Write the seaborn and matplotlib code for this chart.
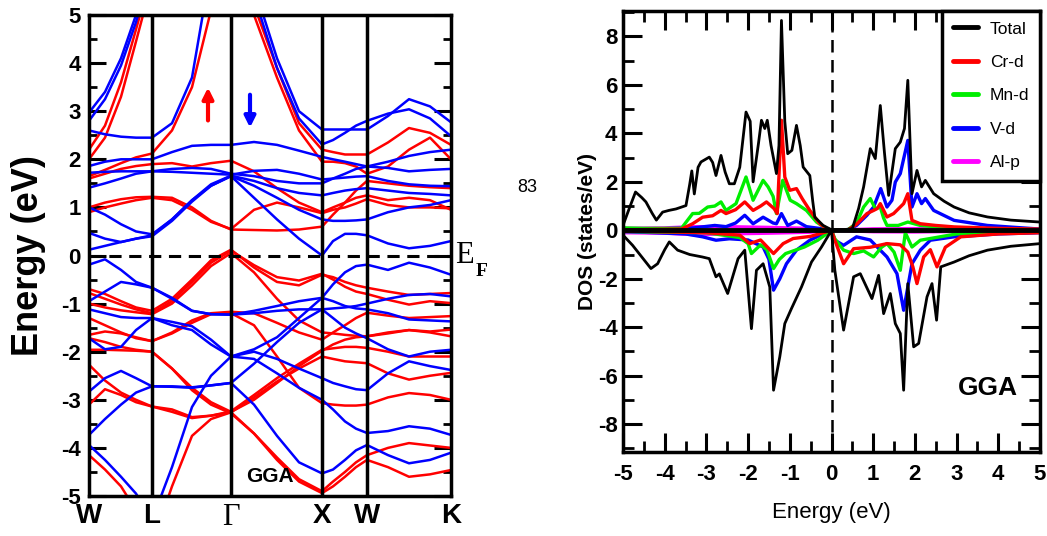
import matplotlib
matplotlib.use('Agg')
import matplotlib.pyplot as plt
from matplotlib.ticker import MultipleLocator
from matplotlib.lines import Line2D
import pandas as pd
import seaborn as sns

# ---- band structure data (k distance along W-L-G-X-W-K, energies in eV) ----
kpts = [0, 16, 32, 47, 63, 83, 103, 122, 142, 165, 188, 210, 233, 244, 256, 267, 278, 299, 320, 341, 362]
sym_pos = [0, 63, 142, 233, 278, 362]
sym_labels = ['W', 'L', 'Γ', 'X', 'W', 'K']

# spin up (red)
up_a = [2.2, 2.7, 3.6, 4.7, 5.9, 7.0, 8.0, 8.5, 9.0, 5.2, 3.9, 2.75, 2.2, 2.15, 2.1, 2.1, 2.1, 2.35, 2.65, 2.55, 2.3]
up_b = [2.0, 2.45, 3.3, 4.45, 5.7, 7.0, 8.0, 8.5, 9.0, 5.0, 3.7, 2.6, 1.95, 1.95, 1.92, 1.85, 1.7, 1.85, 2.2, 2.45, 2.0]
up_c = [1.65, 1.78, 1.92, 2.04, 2.12, 2.6, 3.5, 5.1, 7.0, 8.0, 8.0, 8.0, 8.0, 8.0, 8.0, 8.0, 8.0, 8.0, 8.0, 8.0, 8.0]
up_d = [1.6, 1.7, 1.8, 1.86, 1.9, 1.92, 1.85, 1.92, 1.97, 1.75, 1.4, 1.1, 0.9, 1.0, 1.1, 1.2, 1.25, 1.15, 1.2, 1.15, 0.95]
up_e = [1.0, 1.1, 1.17, 1.21, 1.22, 1.2, 1.0, 0.72, 0.54, 0.53, 0.52, 0.54, 0.6, 0.85, 1.1, 1.35, 1.55, 1.5, 1.45, 1.42, 1.4]
up_f = [0.9, 1.0, 1.08, 1.15, 1.2, 1.15, 0.95, 0.7, 0.55, 0.95, 1.1, 1.0, 0.88, 0.95, 1.0, 1.08, 1.17, 1.05, 1.0, 1.0, 0.98]
up_g = [-0.7, -0.8, -0.95, -1.08, -1.15, -0.9, -0.5, -0.1, 0.12, -0.25, -0.55, -0.62, -0.4, -0.45, -0.55, -0.62, -0.67, -0.75, -0.82, -0.8, -0.78]
up_h = [-0.78, -0.9, -1.02, -1.12, -1.2, -0.95, -0.55, -0.15, 0.1, -0.2, -0.45, -0.52, -0.38, -0.5, -0.65, -0.75, -0.8, -0.92, -1.02, -0.95, -0.99]
up_i = [-1.0, -1.08, -1.14, -1.18, -1.22, -1.0, -0.62, -0.22, 0.05, -0.35, -0.9, -1.35, -1.6, -1.62, -1.65, -1.67, -1.68, -1.62, -1.55, -1.6, -1.68]
up_j = [-1.3, -1.45, -1.6, -1.72, -1.78, -1.6, -1.35, -1.2, -1.17, -1.2, -1.4, -1.6, -1.75, -1.6, -1.45, -1.3, -1.19, -1.25, -1.3, -1.28, -1.26]
up_k = [-1.65, -1.58, -1.62, -1.7, -1.78, -1.62, -1.4, -1.22, -1.2, -1.45, -2.1, -2.75, -3.07, -3.1, -3.12, -3.12, -3.1, -2.95, -2.86, -2.9, -3.0]
up_l = [-1.72, -1.8, -1.9, -1.96, -2.0, -2.35, -2.75, -3.05, -3.25, -3.0, -2.65, -2.3, -1.98, -1.85, -1.75, -1.7, -1.68, -1.6, -1.55, -1.58, -1.54]
up_m = [-1.96, -1.96, -1.97, -1.98, -2.0, -2.35, -2.8, -3.1, -3.28, -3.7, -4.2, -4.65, -4.9, -4.7, -4.5, -4.3, -4.15, -4.0, -3.9, -3.95, -4.0]
up_n = [-2.27, -2.6, -2.85, -3.0, -3.14, -3.25, -3.38, -3.33, -3.24, -2.9, -2.55, -2.25, -1.96, -1.93, -1.9, -1.9, -1.92, -2.0, -2.1, -2.1, -2.1]
up_o = [-3.1, -2.78, -2.9, -3.05, -3.14, -3.2, -3.36, -3.33, -3.26, -2.95, -2.62, -2.35, -2.1, -2.15, -2.2, -2.22, -2.24, -2.45, -2.58, -2.5, -2.44]
up_p = [-4.15, -4.45, -4.8, -5.3, -6.0, -4.8, -3.75, -3.4, -3.26, -3.7, -4.25, -4.7, -4.94, -4.8, -4.6, -4.4, -4.25, -4.4, -4.6, -4.55, -4.46]

# spin down (blue)
dn_a = [2.97, 3.4, 4.1, 5.0, 6.2, 8.0, 8.0, 8.0, 8.0, 8.0, 8.0, 8.0, 8.0, 8.0, 8.0, 8.0, 8.0, 8.0, 8.0, 8.0, 8.0]
dn_b = [2.8, 3.25, 3.95, 4.85, 6.0, 8.0, 8.0, 8.0, 8.0, 8.0, 8.0, 8.0, 8.0, 8.0, 8.0, 8.0, 8.0, 8.0, 8.0, 8.0, 8.0]
dn_c = [2.6, 2.52, 2.47, 2.45, 2.45, 2.75, 3.7, 6.0, 8.0, 5.6, 4.1, 3.0, 2.62, 2.62, 2.62, 2.62, 2.62, 2.9, 3.25, 3.1, 2.77]
dn_d = [8.0, 8.0, 8.0, 8.0, 8.0, 8.0, 8.0, 8.0, 8.0, 5.4, 3.9, 2.85, 2.31, 2.4, 2.55, 2.7, 2.8, 2.95, 3.04, 2.85, 2.48]
dn_e = [1.86, 1.95, 2.0, 2.0, 2.0, 2.15, 2.28, 2.3, 2.3, 2.36, 2.3, 2.18, 2.05, 2.0, 1.95, 1.9, 1.85, 1.95, 2.07, 2.15, 2.2]
dn_f = [1.72, 1.74, 1.75, 1.75, 1.75, 1.74, 1.72, 1.7, 1.68, 1.76, 1.78, 1.7, 1.58, 1.6, 1.62, 1.64, 1.65, 1.55, 1.48, 1.45, 1.44]
dn_g = [1.41, 1.5, 1.6, 1.7, 1.75, 1.8, 1.82, 1.8, 1.7, 1.65, 1.55, 1.5, 1.5, 1.6, 1.7, 1.8, 1.85, 1.82, 1.75, 1.78, 1.8]
dn_h = [0.47, 0.35, 0.28, 0.35, 0.42, 0.75, 1.15, 1.45, 1.65, 1.2, 0.75, 0.35, 0.0, 0.3, 0.45, 0.45, 0.42, 0.25, 0.15, 0.2, 0.3]
dn_i = [0.12, 0.2, 0.28, 0.35, 0.4, 0.72, 1.12, 1.45, 1.65, 1.45, 1.2, 0.95, 0.75, 0.72, 0.72, 0.73, 0.75, 0.9, 1.0, 1.05, 1.15]
dn_j = [1.0, 0.85, 0.65, 0.5, 0.44, 0.75, 1.15, 1.48, 1.66, 1.55, 1.4, 1.3, 1.25, 1.3, 1.35, 1.38, 1.4, 1.35, 1.3, 1.28, 1.25]
dn_k = [-0.19, -0.08, -0.3, -0.55, -0.67, -0.9, -1.15, -1.22, -1.23, -1.15, -1.05, -0.95, -0.88, -0.6, -0.35, -0.22, -0.19, -0.3, -0.15, -0.25, -0.4]
dn_l = [-0.95, -0.75, -0.55, -0.6, -0.67, -0.88, -1.15, -1.22, -1.23, -1.2, -1.15, -1.12, -1.12, -1.1, -1.08, -1.05, -1.0, -0.9, -0.82, -0.8, -0.85]
dn_m = [-1.12, -1.2, -1.28, -1.3, -1.3, -1.38, -1.47, -1.75, -2.1, -1.95, -1.7, -1.3, -0.88, -0.95, -1.05, -1.1, -1.12, -1.2, -1.33, -1.35, -1.37]
dn_n = [-1.72, -1.95, -1.9, -1.55, -1.3, -1.45, -1.55, -1.85, -2.1, -2.0, -2.15, -2.35, -2.55, -2.65, -2.72, -2.78, -2.8, -2.45, -2.2, -2.3, -2.38]
dn_o = [-2.83, -2.55, -2.4, -2.55, -2.72, -2.73, -2.75, -2.7, -2.65, -3.1, -3.75, -4.3, -4.53, -4.45, -4.25, -4.05, -3.94, -4.15, -4.32, -4.25, -4.1]
dn_p = [-3.73, -3.4, -3.1, -2.85, -2.72, -2.72, -2.74, -2.7, -2.65, -2.25, -1.8, -1.4, -1.12, -1.3, -1.5, -1.62, -1.72, -1.95, -2.1, -2.0, -1.96]
dn_q = [-3.94, -4.25, -4.6, -4.95, -5.5, -4.4, -3.15, -2.5, -2.1, -2.15, -2.45, -2.75, -3.0, -3.2, -3.45, -3.6, -3.69, -3.65, -3.55, -3.6, -3.73]

bands_up = [up_a, up_b, up_c, up_d, up_e, up_f, up_g, up_h, up_i, up_j, up_k, up_l, up_m, up_n, up_o, up_p]
bands_dn = [dn_a, dn_b, dn_c, dn_d, dn_e, dn_f, dn_g, dn_h, dn_i, dn_j, dn_k, dn_l, dn_m, dn_n, dn_o, dn_p, dn_q]

# ---- DOS data (energy eV, states/eV); spin down negative ----
tot_up_e = [-5.0, -4.85, -4.7, -4.55, -4.45, -4.3, -4.2, -4.05, -3.9, -3.73, -3.49, -3.4, -3.35, -3.29, -3.2, -3.13,
            -2.93, -2.85, -2.77, -2.65, -2.55, -2.45, -2.33, -2.2, -2.05, -1.95, -1.88, -1.75, -1.68, -1.6, -1.54,
            -1.45, -1.32, -1.26, -1.2, -1.12, -1.05, -0.95, -0.84, -0.75, -0.68, -0.52, -0.45, -0.4, -0.2, 0.0,
            0.3, 0.5, 0.65, 0.77, 0.93, 1.05, 1.17, 1.27, 1.37, 1.53, 1.65, 1.75, 1.83, 1.93, 2.05, 2.16, 2.25,
            2.45, 2.7, 2.94, 3.3, 3.74, 4.3, 5.0]
tot_up = [0.2, 0.9, 1.58, 1.35, 1.17, 0.7, 0.42, 0.75, 0.82, 0.88, 1.02, 1.9, 2.45, 1.5, 2.6, 2.82,
          3.02, 2.8, 2.26, 3.09, 2.4, 1.92, 1.92, 2.6, 4.88, 4.5, 2.0, 3.6, 4.54, 4.2, 4.54,
          3.5, 2.34, 3.5, 8.66, 4.5, 3.16, 3.3, 4.33, 3.5, 2.61, 2.26, 1.2, 0.54, 0.2, 0.02,
          0.02, 0.07, 0.9, 1.79, 3.37, 2.96, 5.15, 3.2, 1.44, 3.37, 3.64, 4.2, 6.19, 1.51, 2.47, 1.79, 2.06,
          1.51, 1.2, 0.96, 0.72, 0.55, 0.42, 0.34]
tot_dn_e = [-5.0, -4.77, -4.55, -4.33, -4.17, -4.0, -3.89, -3.69, -3.4, -3.1, -2.93, -2.77, -2.69, -2.49, -2.35,
            -2.24, -2.08, -1.92, -1.8, -1.64, -1.48, -1.39, -1.24, -1.12, -0.96, -0.72, -0.48, -0.24, 0.0, 0.08,
            0.29, 0.53, 0.69, 0.97, 1.13, 1.25, 1.41, 1.53, 1.65, 1.73, 1.83, 1.97, 2.09, 2.29, 2.41, 2.52, 2.62,
            2.94, 3.3, 3.74, 4.3, 5.0]
tot_dn = [-0.2, -0.62, -1.1, -1.58, -1.38, -0.8, -0.48, -0.82, -1.0, -1.1, -1.17, -1.92, -1.8, -2.61, -1.8,
          -1.17, -0.82, -4.06, -1.65, -1.38, -2.34, -6.6, -5.22, -3.85, -3.23, -2.34, -1.31, -0.69, 0.0, -1.65,
          -4.12, -1.92, -1.79, -2.82, -1.86, -3.44, -2.61, -3.85, -4.26, -6.6, -2.2, -4.81, -4.67, -2.75, -2.2, -3.71, -1.51,
          -1.31, -1.05, -0.82, -0.66, -0.55]

cr_up_e = [-5.0, -3.6, -3.33, -3.09, -2.85, -2.65, -2.53, -2.3, -2.08, -1.88, -1.7, -1.56, -1.38, -1.3, -1.2, -1.12,
           -1.0, -0.84, -0.7, -0.52, -0.28, -0.12, 0.0, 0.4, 0.6, 0.85, 1.01, 1.1, 1.17, 1.33, 1.49, 1.73, 1.83,
           1.93, 2.13, 2.5, 2.94, 4.0, 5.0]
cr_up = [0.02, 0.05, 0.27, 0.54, 0.6, 0.82, 0.69, 0.85, 1.17, 0.82, 1.0, 1.17, 0.9, 0.69, 4.54, 2.2,
         1.65, 1.72, 1.3, 0.82, 0.27, 0.07, 0.0, 0.02, 0.25, 0.69, 0.82, 0.9, 1.1, 0.55, 0.69, 1.1, 1.51,
         0.41, 0.27, 0.2, 0.14, 0.08, 0.05]
mn_up_e = [-5.0, -4.5, -3.6, -3.33, -3.17, -2.97, -2.8, -2.65, -2.53, -2.29, -2.05, -1.88, -1.64, -1.52, -1.4,
           -1.32, -1.17, -0.99, -0.84, -0.6, -0.36, -0.12, 0.0, 0.4, 0.6, 0.77, 0.93, 1.05, 1.17, 1.25, 1.33,
           1.6, 1.83, 2.13, 3.0, 5.0]
mn_up = [0.1, 0.08, 0.08, 0.69, 0.7, 0.96, 1.0, 1.17, 0.82, 1.1, 2.2, 1.24, 2.06, 1.79, 1.4,
         0.69, 2.06, 1.24, 1.1, 0.82, 0.34, 0.07, 0.0, 0.03, 0.3, 0.96, 1.31, 0.89, 0.96, 0.5, 0.2,
         0.2, 0.34, 0.2, 0.06, 0.03]
v_up_e = [-5.0, -3.3, -2.8, -2.53, -2.3, -2.08, -1.88, -1.64, -1.4, -1.32, -1.2, -1.05, -0.84, -0.6, -0.3, 0.0,
          0.4, 0.6, 0.85, 1.01, 1.18, 1.33, 1.45, 1.53, 1.65, 1.83, 1.93, 2.05, 2.16, 2.25, 2.45, 2.94, 3.74, 5.0]
v_up = [0.02, 0.1, 0.2, 0.15, 0.3, 0.62, 0.27, 0.54, 0.3, 0.27, 0.69, 0.2, 0.38, 0.15, 0.08, 0.0,
        0.03, 0.2, 0.62, 0.96, 1.72, 0.96, 1.24, 1.99, 2.34, 3.71, 0.96, 1.51, 1.1, 1.31, 0.82, 0.41, 0.2, 0.05]
al_up_e = [-5.0, -4.0, -3.3, -2.5, -1.5, -0.5, 0.0, 1.0, 2.0, 3.0, 5.0]
al_up = [0.08, 0.1, 0.15, 0.15, 0.12, 0.08, 0.0, 0.06, 0.07, 0.05, 0.04]

cr_dn_e = [-5.0, -3.0, -2.2, -1.96, -1.7, -1.39, -1.16, -0.92, -0.5, -0.2, 0.0, 0.08, 0.29, 0.53, 0.93, 1.33,
           1.65, 1.83, 1.95, 2.05, 2.21, 2.37, 2.53, 2.73, 3.1, 4.0, 5.0]
cr_dn = [-0.03, -0.1, -0.2, -0.55, -0.4, -0.96, -0.55, -0.34, -0.25, -0.1, 0.0, -0.41, -1.38, -0.76, -0.7, -0.55,
         -0.6, -0.9, -1.5, -2.2, -1.1, -0.8, -1.51, -0.7, -0.27, -0.15, -0.1]
mn_dn_e = [-5.0, -3.0, -2.2, -2.0, -1.92, -1.7, -1.55, -1.39, -1.25, -1.1, -0.65, -0.33, 0.0, 0.08, 0.29, 0.53,
           0.77, 1.01, 1.2, 1.33, 1.5, 1.65, 1.77, 1.93, 2.13, 2.5, 3.0, 5.0]
mn_dn = [-0.05, -0.1, -0.3, -0.55, -0.96, -0.6, -0.8, -1.58, -1.2, -0.96, -0.69, -0.41, 0.0, -0.35, -0.82, -0.96,
         -0.85, -1.1, -0.7, -0.55, -0.9, -1.65, -0.1, -0.69, -0.41, -0.3, -0.15, -0.05]
v_dn_e = [-5.0, -3.5, -3.09, -2.77, -2.45, -2.0, -1.64, -1.5, -1.39, -1.24, -1.08, -0.84, -0.52, -0.2, 0.0, 0.08,
          0.29, 0.6, 0.93, 1.33, 1.57, 1.73, 1.93, 2.13, 2.37, 2.94, 4.0, 5.0]
v_dn = [-0.05, -0.15, -0.27, -0.41, -0.35, -0.4, -0.69, -1.2, -2.47, -2.0, -1.38, -0.82, -0.41, -0.15, 0.0, -0.41,
        -0.62, -0.27, -0.4, -1.1, -1.79, -3.3, -1.38, -0.82, -0.41, -0.27, -0.15, -0.1]
al_dn_e = [-5.0, -4.0, -3.3, -2.5, -1.5, -0.5, 0.0, 1.0, 2.0, 3.0, 5.0]
al_dn = [-0.1, -0.12, -0.18, -0.15, -0.12, -0.08, 0.0, -0.06, -0.07, -0.05, -0.04]

dos_names = ['Total', 'Cr-d', 'Mn-d', 'V-d', 'Al-p']
dos_colors = ['#000000', '#ff0000', '#00ee00', '#0000ff', '#ff00ff']

sns.set_style('ticks')
plt.rcParams['font.family'] = ['Liberation Sans', 'DejaVu Sans']
plt.rcParams['axes.unicode_minus'] = False
for key in ('text.color', 'axes.labelcolor', 'xtick.color', 'ytick.color', 'axes.edgecolor'):
    plt.rcParams[key] = 'black'

fig = plt.figure(figsize=(10.47, 5.36), dpi=100)
ax1 = fig.add_axes([89 / 1047, 40 / 536, 362 / 1047, 481 / 536])
ax2 = fig.add_axes([623 / 1047, 84 / 536, 417 / 1047, 441 / 536])

# ---------------- left: band structure ----------------
rows = []
for spin, bands in (('up', bands_up), ('dn', bands_dn)):
    for i, b in enumerate(bands):
        for k, e in zip(kpts, b):
            rows.append((f'{spin}{i}', spin, k, e))
bdf = pd.DataFrame(rows, columns=['band', 'spin', 'k', 'E'])

sns.lineplot(data=bdf[bdf.spin == 'up'], x='k', y='E', units='band', estimator=None,
             color='#ff0000', lw=1.8, sort=False, ax=ax1, legend=False)
sns.lineplot(data=bdf[bdf.spin == 'dn'], x='k', y='E', units='band', estimator=None,
             color='#0000ff', lw=1.8, sort=False, ax=ax1, legend=False)

for p in sym_pos[1:-1]:
    ax1.axvline(p, color='k', lw=2.5, zorder=3)
ax1.axhline(0, color='k', lw=2.2, ls=(0, (4, 2.5)), zorder=3)

ax1.set_xlim(0, 362)
ax1.set_ylim(-5, 5)
ax1.set_xlabel('')
ax1.set_ylabel('Energy (eV)', fontsize=26, fontweight='bold')
ax1.yaxis.set_label_coords(-0.119, 0.5)
ax1.set_yticks(range(-5, 6))
ax1.yaxis.set_minor_locator(MultipleLocator(0.5))
ax1.tick_params(axis='y', which='major', direction='in', length=12, width=2.2,
                left=True, right=True, labelsize=16, pad=6)
ax1.tick_params(axis='y', which='minor', direction='in', length=6, width=2,
                left=True, right=True)
for t in ax1.get_yticklabels():
    t.set_fontweight('bold')
ax1.set_xticks(sym_pos)
ax1.set_xticklabels(sym_labels, fontsize=20, fontweight='bold')
ax1.tick_params(axis='x', length=0, pad=5)
gl = ax1.get_xticklabels()[2]
gl.set_fontfamily(['Liberation Serif', 'DejaVu Serif'])
gl.set_fontweight('normal')
gl.set_fontsize(22)
for s in ax1.spines.values():
    s.set_linewidth(2.5)

ax1.annotate('', xy=(119, 3.55), xytext=(119, 2.75),
             arrowprops=dict(arrowstyle='-|>', color='#ff0000', lw=3, mutation_scale=16))
ax1.annotate('', xy=(161, 2.6), xytext=(161, 3.4),
             arrowprops=dict(arrowstyle='-|>', color='#0000ff', lw=3, mutation_scale=16))
ax1.text(181, -4.6, 'GGA', fontsize=15, fontweight='bold', ha='center', va='center')

fig.text(455 / 1047, 1 - 263 / 536, 'E', fontsize=22, family=['Liberation Serif', 'DejaVu Serif'],
         ha='left', va='baseline')
fig.text(476 / 1047, 1 - 276 / 536, 'F', fontsize=14, fontweight='bold',
         family=['Liberation Serif', 'DejaVu Serif'], ha='left', va='baseline')
fig.text(527 / 1047, 1 - 187 / 536, '83', fontsize=13, ha='center', va='center')

# ---------------- right: DOS ----------------
series = [
    (al_up_e, al_up, al_dn_e, al_dn, dos_colors[4]),
    (v_up_e, v_up, v_dn_e, v_dn, dos_colors[3]),
    (mn_up_e, mn_up, mn_dn_e, mn_dn, dos_colors[2]),
    (cr_up_e, cr_up, cr_dn_e, cr_dn, dos_colors[1]),
    (tot_up_e, tot_up, tot_dn_e, tot_dn, dos_colors[0]),
]
for eu, vu, ed, vd, c in series:
    lw = 2.0 if c == '#000000' else 2.4
    sns.lineplot(x=eu, y=vu, color=c, lw=lw, estimator=None, sort=False, ax=ax2, legend=False)
    sns.lineplot(x=ed, y=vd, color=c, lw=lw, estimator=None, sort=False, ax=ax2, legend=False)

ax2.axhline(0, color='k', lw=3.5, zorder=4)
ax2.axvline(0, color='k', lw=1.8, ls=(0, (5, 3)), zorder=4)
ax2.set_xlim(-5, 5)
ax2.set_ylim(-9.15, 9.05)
ax2.set_xticks(range(-5, 6))
ax2.set_yticks(range(-8, 9, 2))
ax2.xaxis.set_minor_locator(MultipleLocator(0.5))
ax2.yaxis.set_minor_locator(MultipleLocator(1))
ax2.tick_params(which='major', direction='in', length=14, width=2.2,
                top=True, right=True, labelsize=16)
ax2.tick_params(which='minor', direction='in', length=8, width=2, top=True, right=True)
ax2.tick_params(axis='x', pad=9)
ax2.tick_params(axis='y', pad=4)
for t in ax2.get_xticklabels() + ax2.get_yticklabels():
    t.set_fontweight('bold')
for s in ax2.spines.values():
    s.set_linewidth(2.5)
ax2.set_xlabel('Energy (eV)', fontsize=16)
ax2.xaxis.set_label_coords(0.5, -0.113)
ax2.set_ylabel('DOS (states/eV)', fontsize=15, fontweight='bold')
ax2.yaxis.set_label_coords(-0.062, 0.5)
ax2.text(3.75, -6.5, 'GGA', fontsize=19, fontweight='bold', ha='center', va='center')

handles = [Line2D([], [], color=c, lw=3.5) for c in dos_colors]
leg = ax2.legend(handles, dos_names, loc='upper right', borderaxespad=0, frameon=True,
                 fancybox=False, edgecolor='k', framealpha=1,
                 prop={'size': 12.5}, handlelength=1.45,
                 labelspacing=1.05, borderpad=0.6, handletextpad=0.7)
leg.get_frame().set_linewidth(2.5)
leg.set_zorder(10)

fig.savefig('out.png', dpi=100)
